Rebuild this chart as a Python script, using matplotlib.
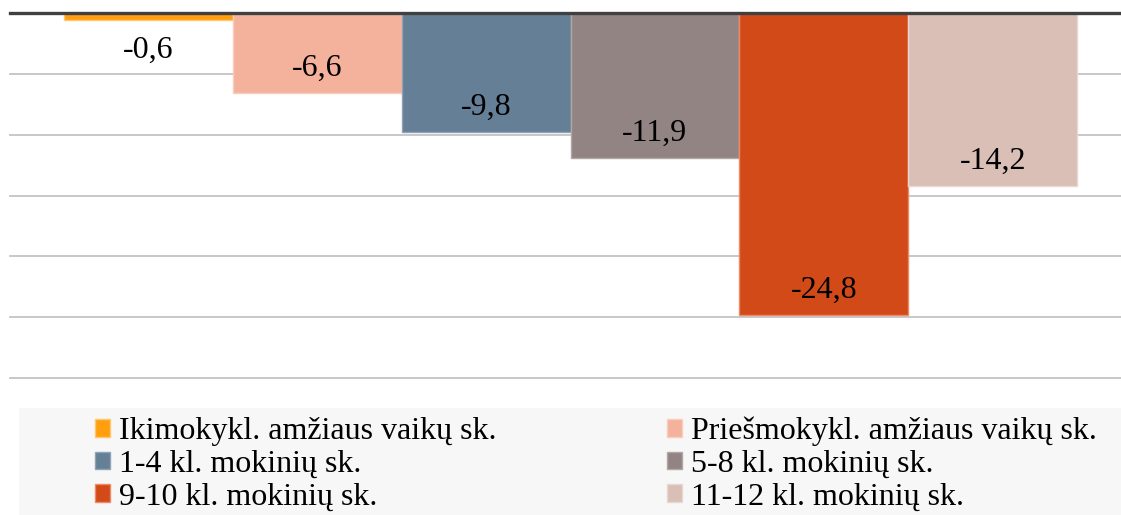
import matplotlib.pyplot as plt
import matplotlib.patches as patches

plt.rcParams['font.family'] = ['Liberation Serif', 'DejaVu Serif']

# duomenys
categories = ['Ikimokykl. amžiaus vaikų sk.', 'Priešmokykl. amžiaus vaikų sk.',
              '1-4 kl. mokinių sk.', '5-8 kl. mokinių sk.',
              '9-10 kl. mokinių sk.', '11-12 kl. mokinių sk.']
values = [-0.6, -6.6, -9.8, -11.9, -24.8, -14.2]
colors = ['#FF9F0F', '#F4B29C', '#657F97', '#918482', '#D24A18', '#D9BFB5']
edges = ['#FFC870', '#F8CDBE', '#8FA3B5', '#B1A7A5', '#EE8A66', '#E9D8D2']

W, H = 1121, 515
fig = plt.figure(figsize=(W / 100, H / 100), dpi=100)
ax = fig.add_axes([10 / W, 1 - 378 / H, (W - 10) / W, (378 - 13) / H])
ax.set_xlim(-0.82, 5.76)
ax.set_ylim(-30, 0)

bars = []
for i, (v, c, e, lab) in enumerate(zip(values, colors, edges, categories)):
    b = ax.bar(i, v, width=1.0, color=c, edgecolor=e, linewidth=1.0, label=lab, zorder=2)
    bars.append(b)
    txt = f'{v:.1f}'.replace('.', ',')
    off = 17.7 if abs(v) > 3 else -21.3
    ax.annotate(txt, xy=(i, v), xytext=(0, off), textcoords='offset points',
                ha='center', va='center', fontsize=23, color='black', zorder=4)

# tinklelis
ax.set_yticks(range(-30, 0, 5))
ax.yaxis.grid(True, color='#c4c4c4', linewidth=1.3, zorder=0)
for gl in ax.get_ygridlines():
    gl.set_clip_on(False)
ax.set_axisbelow(True)
ax.tick_params(left=False, bottom=False, labelleft=False, labelbottom=False)
for s in ax.spines.values():
    s.set_visible(False)
ax.axhline(0, color='#404040', linewidth=2.4, zorder=5, clip_on=False)

# legendos fonas
fig.patches.append(patches.Rectangle((19 / W, 0), 1, 1 - 408 / H, transform=fig.transFigure,
                                     facecolor='#F7F7F7', edgecolor='none', zorder=0))

order = [0, 2, 4, 1, 3, 5]
leg = fig.legend([bars[k] for k in order], [categories[k] for k in order],
                 ncol=2, loc='upper left', bbox_to_anchor=(95 / W, 1 - 417 / H),
                 frameon=False, fontsize=23, handlelength=0.47, handleheight=0.47,
                 handletextpad=0.28, labelspacing=0.11, columnspacing=5.34, borderpad=0,
                 borderaxespad=0)

fig.savefig('out.png', dpi=100)
